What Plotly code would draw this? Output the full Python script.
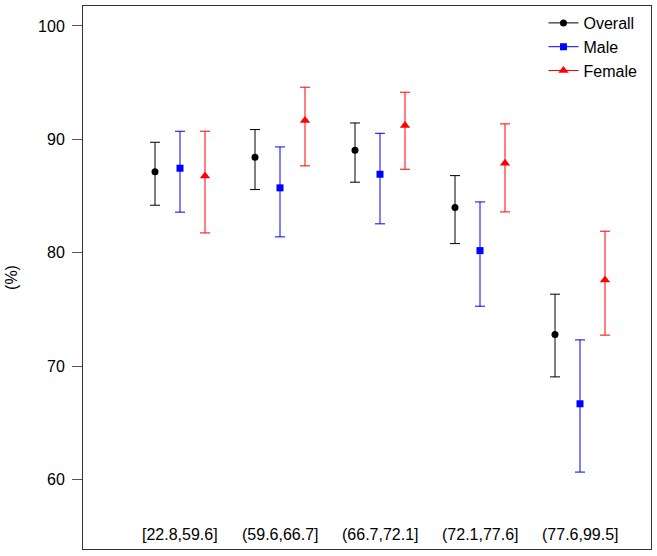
import numpy as np
import plotly.graph_objects as go

# age groups (categories shown under each cluster)
categories = ["[22.8,59.6]", "(59.6,66.7]", "(66.7,72.1]", "(72.1,77.6]", "(77.6,99.5]"]

# point estimates and interval limits (%)
overall = [87.16, 88.43, 89.05, 83.99, 72.80]
overall_lo = [84.20, 85.58, 86.23, 80.82, 69.07]
overall_hi = [89.75, 90.87, 91.45, 86.81, 76.36]

male = [87.46, 85.73, 86.93, 80.20, 66.70]
male_lo = [83.59, 81.41, 82.56, 75.30, 60.68]
male_hi = [90.72, 89.34, 90.54, 84.49, 72.33]

female = [86.78, 91.66, 91.22, 87.90, 77.62]
female_lo = [81.76, 87.67, 87.37, 83.61, 72.75]
female_hi = [90.72, 94.60, 94.16, 91.37, 81.91]

series = [
    ("Overall", overall, overall_lo, overall_hi, "black", "circle", 7, -0.25),
    ("Male", male, male_lo, male_hi, "#0000FF", "square", 7, 0.0),
    ("Female", female, female_lo, female_hi, "#FF0000", "triangle-up", 9, 0.25),
]

FONT = "Liberation Sans, Arial, Helvetica, sans-serif"
pos = np.arange(1, len(categories) + 1)

fig = go.Figure()
for name, est, lo, hi, color, symbol, size, shift in series:
    est, lo, hi = np.array(est), np.array(lo), np.array(hi)
    fig.add_trace(go.Scatter(
        x=pos + shift, y=est, mode="markers", showlegend=False,
        marker=dict(color=color, symbol=symbol, size=size),
        error_y=dict(type="data", symmetric=False, array=hi - est,
                     arrayminus=est - lo, color=color, thickness=1, width=5),
    ))
    # legend entry drawn as line + marker, like R's legend()
    fig.add_trace(go.Scatter(
        x=[None], y=[None], mode="lines+markers", name=name,
        line=dict(color=color, width=1),
        marker=dict(color=color, symbol=symbol, size=size),
    ))

for p, label in zip(pos, categories):
    fig.add_annotation(x=p, y=0, xref="x", yref="paper", yanchor="bottom",
                       yshift=4, text=label, showarrow=False,
                       font=dict(size=16, color="black", family=FONT))

fig.update_layout(
    width=657, height=556,
    margin=dict(l=83, r=6, t=6, b=7),
    plot_bgcolor="white", paper_bgcolor="white",
    font=dict(family=FONT, size=16, color="black"),
    legend=dict(x=0.985, xanchor="right", y=1.0, yanchor="top",
                bgcolor="rgba(0,0,0,0)", font=dict(size=16),
                tracegroupgap=0),
    xaxis=dict(range=[0.03, 5.71], showticklabels=False, ticks="",
               showgrid=False, zeroline=False, showline=True,
               linecolor="#333", linewidth=1, mirror=True),
    yaxis=dict(range=[53.9, 101.76], tickvals=[60, 70, 80, 90, 100],
               ticks="outside", ticklen=10, tickcolor="#555",
               ticklabelstandoff=4,
               showgrid=False, zeroline=False, showline=True,
               linecolor="#333", linewidth=1, mirror=True,
               tickfont=dict(size=16),
               title=dict(text="(%)", font=dict(size=16), standoff=16)),
)

# drop the page's default body margin so the figure sits at the window origin
fig.write_html("out.html", config={"displayModeBar": False},
               post_script="document.body.style.margin='0';")
